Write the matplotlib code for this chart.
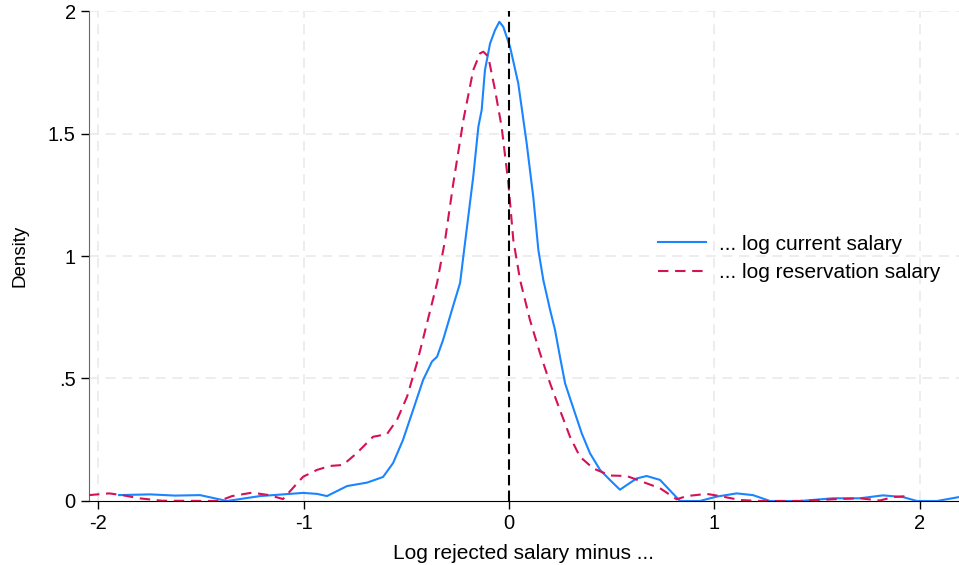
import matplotlib
matplotlib.use("Agg")
import matplotlib.pyplot as plt

plt.rcParams['font.family'] = ['Liberation Sans', 'DejaVu Sans']

# density of log rejected salary minus log current salary
cur_x = [-1.898, -1.747, -1.625, -1.504, -1.372, -1.212, -1.002, -0.934, -0.886, -0.788,
         -0.691, -0.613, -0.564, -0.516, -0.467, -0.418, -0.375, -0.350, -0.321, -0.273,
         -0.238, -0.222, -0.174, -0.149, -0.133, -0.117, -0.092, -0.068, -0.047, -0.028,
         0.005, 0.045, 0.086, 0.118, 0.143, 0.167, 0.200, 0.224, 0.248, 0.273,
         0.305, 0.354, 0.394, 0.443, 0.491, 0.540, 0.573, 0.621, 0.670, 0.735,
         0.832, 0.929, 1.011, 1.108, 1.187, 1.270, 1.416, 1.577, 1.708, 1.820,
         1.917, 1.985, 2.083, 2.190]
cur_y = [0.024, 0.027, 0.022, 0.024, 0.0, 0.020, 0.033, 0.029, 0.020, 0.061,
         0.075, 0.098, 0.155, 0.249, 0.371, 0.494, 0.569, 0.589, 0.657, 0.793,
         0.890, 1.000, 1.324, 1.528, 1.596, 1.759, 1.868, 1.922, 1.956, 1.936,
         1.854, 1.705, 1.460, 1.242, 1.024, 0.902, 0.780, 0.698, 0.589, 0.480,
         0.399, 0.276, 0.195, 0.127, 0.086, 0.046, 0.065, 0.092, 0.102, 0.086,
         0.0, 0.0, 0.018, 0.031, 0.024, 0.0, 0.0, 0.011, 0.011, 0.023,
         0.016, 0.0, 0.0, 0.016]

res_x = [-2.044, -1.946, -1.883, -1.800, -1.689, -1.411, -1.348, -1.251, -1.168, -1.100,
         -1.002, -0.934, -0.871, -0.808, -0.740, -0.662, -0.594, -0.545, -0.496, -0.448,
         -0.399, -0.350, -0.311, -0.271, -0.222, -0.174, -0.141, -0.125, -0.101, -0.068,
         -0.036, -0.003, 0.021, 0.054, 0.102, 0.151, 0.200, 0.248, 0.297, 0.345,
         0.410, 0.491, 0.573, 0.670, 0.735, 0.816, 0.865, 0.962, 1.027, 1.124,
         1.221, 1.416, 1.577, 1.708, 1.805, 1.869, 1.937]
res_y = [0.024, 0.031, 0.024, 0.011, 0.001, 0.0, 0.020, 0.034, 0.024, 0.008,
         0.099, 0.127, 0.143, 0.147, 0.196, 0.262, 0.273, 0.331, 0.426, 0.563,
         0.726, 0.890, 1.065, 1.297, 1.555, 1.759, 1.827, 1.834, 1.814, 1.678,
         1.528, 1.297, 1.065, 0.902, 0.739, 0.603, 0.480, 0.371, 0.262, 0.181,
         0.133, 0.104, 0.102, 0.072, 0.052, 0.007, 0.020, 0.029, 0.020, 0.004,
         0.0, 0.0, 0.007, 0.011, 0.002, 0.016, 0.020]

xticks = [-2, -1, 0, 1, 2]
yticks = [0, 0.5, 1, 1.5, 2]
ylabels = ['0', '.5', '1', '1.5', '2']

fig = plt.figure(figsize=(9.59, 5.65), dpi=100)
ax = fig.add_axes([0.0928, 0.1133, 0.9072, 0.8672])

for v in xticks:
    if v != 0:
        ax.axvline(v, color='#eaeaea', lw=1.2, dashes=(6, 4), zorder=0)
for v in yticks[1:]:
    ax.axhline(v, color='#eaeaea', lw=1.2, dashes=(6, 4), zorder=0)

ax.plot(cur_x, cur_y, color='#1a85ff', lw=1.5, label='... log current salary', zorder=3)
ax.plot(res_x, res_y, color='#d41159', lw=1.5, dashes=(5, 3.2), label='... log reservation salary', zorder=3)
ax.axvline(0, color='black', lw=1.5, dashes=(5, 2.5), zorder=4)

ax.set_xlim(-2.044, 2.19)
ax.set_ylim(0, 2)
ax.set_xticks(xticks)
ax.set_xticklabels(['-2', '-1', '0', '1', '2'])
ax.set_yticks(yticks)
ax.set_yticklabels(ylabels)
ax.tick_params(labelsize=14.5, length=6, width=1, colors='black', direction='out')

for s in ['top', 'right']:
    ax.spines[s].set_visible(False)
ax.spines['left'].set_color('#666666')
ax.spines['bottom'].set_color('black')

ax.set_xlabel('Log rejected salary minus ...', fontsize=15, labelpad=8)
ax.set_ylabel('Density', fontsize=13.5, labelpad=14)

ax.legend(loc='center left', bbox_to_anchor=(0.633, 0.495), frameon=False, fontsize=15,
          handlelength=2.3, handletextpad=0.6, labelspacing=0.45)

fig.savefig('out.png', dpi=100)
